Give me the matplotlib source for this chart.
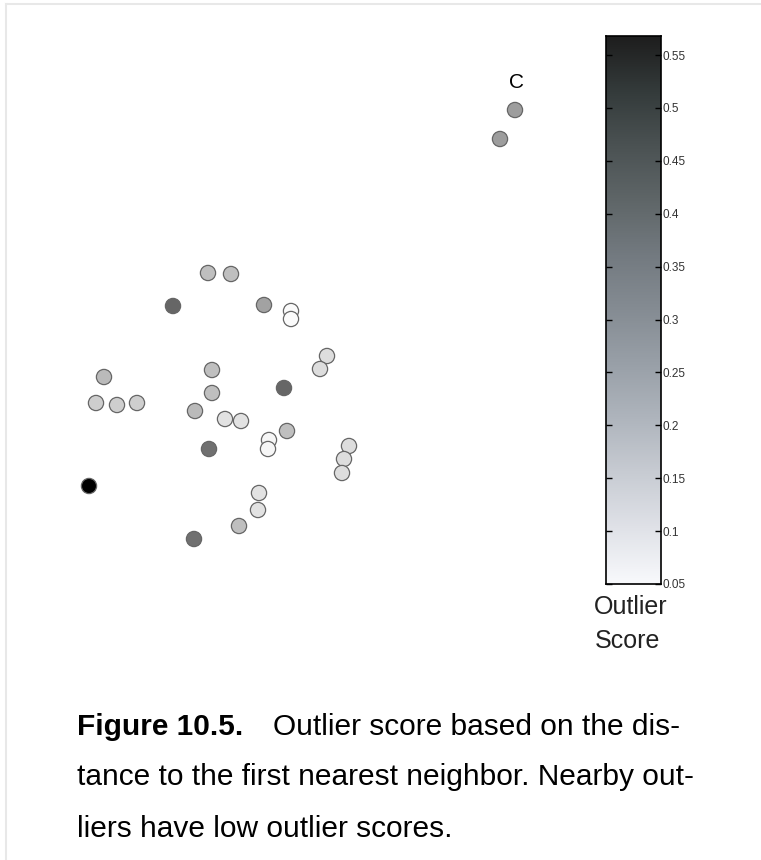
import numpy as np
import matplotlib
matplotlib.use('Agg')
import matplotlib.pyplot as plt
from matplotlib.colors import LinearSegmentedColormap, Normalize
from matplotlib.lines import Line2D

# point positions and first-nearest-neighbour outlier scores
x = [208, 231, 173, 264, 291, 291, 327, 320, 104, 212, 212, 284, 96, 117, 137, 195,
     225, 241, 287, 269, 268, 209, 349, 344, 342, 89, 259, 258, 239, 194, 500, 515]
y = [273, 274, 306, 305, 311, 319, 356, 369, 377, 370, 393, 388, 403, 405, 403, 411,
     419, 421, 431, 440, 449, 449, 446, 459, 473, 486, 493, 510, 526, 539, 139, 110]
score = [0.18, 0.18, 0.36, 0.24, 0.06, 0.06, 0.12, 0.12, 0.19, 0.18, 0.18, 0.36, 0.15, 0.15, 0.15, 0.19,
         0.11, 0.11, 0.18, 0.07, 0.07, 0.34, 0.12, 0.12, 0.12, 0.568, 0.11, 0.11, 0.18, 0.34, 0.25, 0.25]
cbar_ticks = [0.05, 0.1, 0.15, 0.2, 0.25, 0.3, 0.35, 0.4, 0.45, 0.5, 0.55]
vmin, vmax = 0.05, 0.568

cbar_cmap = LinearSegmentedColormap.from_list(
    'outlier', ['#f8f9fc', '#e0e2e8', '#c8ccd3', '#afb5bd', '#99a0a8', '#858c93',
                '#737a80', '#5f6668', '#4b5253', '#343b3b', '#1e1e1e'])
norm = Normalize(vmin, vmax)

fig = plt.figure(figsize=(7.61, 8.6), dpi=100)

# main scatter (no axes drawn)
ax = fig.add_axes([0, 0, 1, 1])
ax.set_xlim(0, 761)
ax.set_ylim(860, 0)
ax.axis('off')
ax.scatter(x, y, c=score, cmap='gray_r', norm=norm, s=120,
           edgecolors='#666666', linewidths=0.9, zorder=3)
ax.text(516, 83, 'C', fontsize=15, ha='center', va='center', family='Liberation Sans')

# colorbar
cax = fig.add_axes([606/761, 1 - 584/860, 55/761, 548/860])
grad = np.linspace(vmin, vmax, 256).reshape(-1, 1)
cax.imshow(grad, aspect='auto', cmap=cbar_cmap, origin='lower', extent=[0, 1, vmin, vmax])
cax.set_xticks([])
cax.yaxis.tick_right()
cax.set_yticks(cbar_ticks)
cax.set_yticklabels([('%g' % t) for t in cbar_ticks], family='Liberation Sans',
                    fontsize=8.5, color='#333333')
cax.tick_params(axis='y', direction='in', length=4, width=1, right=True, left=True, pad=1)
for sp in cax.spines.values():
    sp.set_linewidth(1.2)
fig.text(594/761, 1 - 607/860, 'Outlier', fontsize=18, ha='left', va='center',
         family='Liberation Sans', color='#222222')
fig.text(595/761, 1 - 641/860, 'Score', fontsize=18, ha='left', va='center',
         family='Liberation Sans', color='#222222')

# faint page border
fig.add_artist(Line2D([6/761, 6/761], [0, 1 - 4/860], color='#e8e8e8', lw=1.5))
fig.add_artist(Line2D([6/761, 1], [1 - 4/860, 1 - 4/860], color='#e8e8e8', lw=1.5))

# caption
cap_font = 'Liberation Sans'
fs = 21.5
fig.text(77/761, 1 - 735/860, 'Figure 10.5.', fontsize=fs, fontweight='bold',
         family=cap_font, va='baseline')
fig.text(273/761, 1 - 735/860, 'Outlier score based on the dis-', fontsize=fs,
         family=cap_font, va='baseline')
fig.text(77/761, 1 - 785/860, 'tance to the first nearest neighbor. Nearby out-', fontsize=fs,
         family=cap_font, va='baseline')
fig.text(77/761, 1 - 837/860, 'liers have low outlier scores.', fontsize=fs,
         family=cap_font, va='baseline')

fig.savefig('out.png', dpi=100, facecolor='white')
